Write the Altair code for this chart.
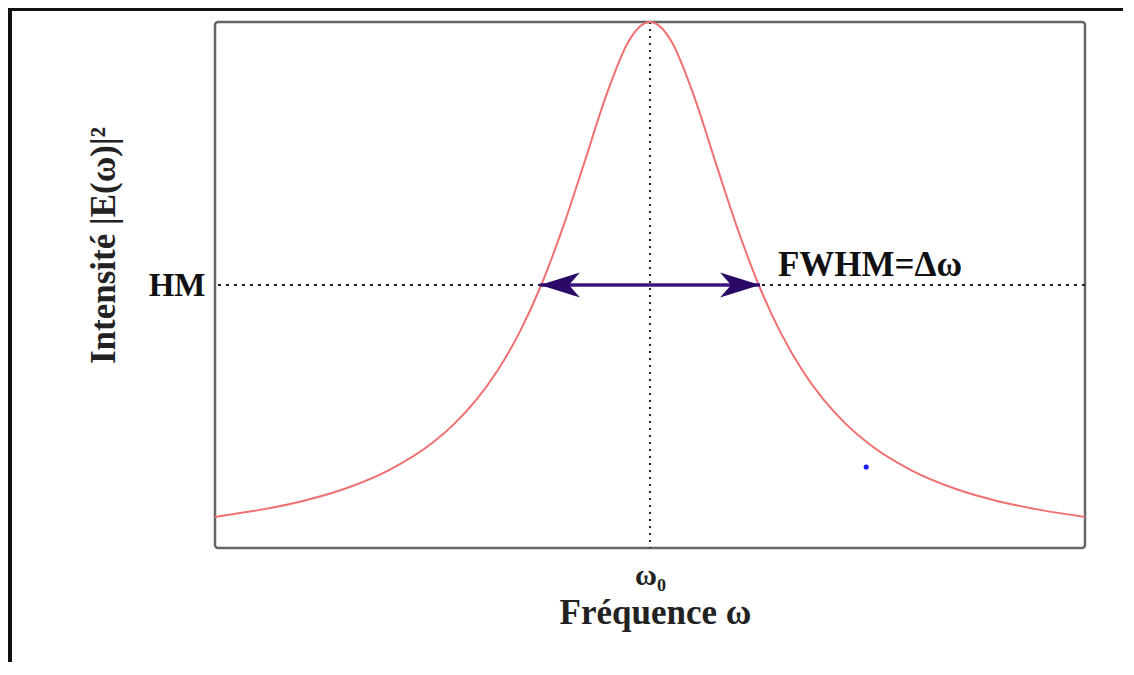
import altair as alt
import pandas as pd

# Curve (normalised intensity vs. frequency offset)
freq = [-1.0, -0.9, -0.8, -0.7, -0.6, -0.5, -0.45, -0.4, -0.35, -0.3, -0.25, -0.2, -0.15, -0.1, -0.05, -0.025,
        0.0, 0.025, 0.05, 0.1, 0.15, 0.2, 0.25, 0.3, 0.35, 0.4, 0.45, 0.5, 0.6, 0.7, 0.8, 0.9, 1.0]
intensity = [0.059, 0.072, 0.089, 0.113, 0.148, 0.200, 0.236, 0.281, 0.338, 0.410, 0.500, 0.610, 0.735, 0.862, 0.962, 0.990,
             1.0, 0.990, 0.962, 0.862, 0.735, 0.610, 0.500, 0.410, 0.338, 0.281, 0.236, 0.200, 0.148, 0.113, 0.089, 0.072, 0.059]

half_max = 0.5
fwhm_left, fwhm_right = -0.253, 0.253
dot_x, dot_y = [0.497], [0.154]
label_x, label_y, label_text = [0.294], [0.538], ["FWHM=Δω"]

curve_df = pd.DataFrame({"f": freq, "i": intensity})
arrow_df = pd.DataFrame({"f": [fwhm_left], "f2": [fwhm_right], "i": [half_max]})
heads_df = pd.DataFrame({"f": [fwhm_left, fwhm_right], "i": [half_max, half_max], "side": ["L", "R"]})
dot_df = pd.DataFrame({"f": dot_x, "i": dot_y})
txt_df = pd.DataFrame({"f": label_x, "i": label_y, "t": label_text})

SERIF = "Liberation Serif"
xs = alt.Scale(domain=[-1, 1], nice=False, zero=False)
ys = alt.Scale(domain=[0, 1], nice=False, zero=False)

x_axis = alt.Axis(values=[0], labelExpr="'ω₀'", ticks=False, grid=False, domain=False,
                  labelFont=SERIF, labelFontSize=30, labelFontWeight="bold", labelColor="#222",
                  labelPadding=12, title="Fréquence ω", titleFont=SERIF, titleFontSize=35,
                  titleFontWeight="bold", titleColor="#222", titleX=440, titleY=64,
                  titleBaseline="middle")
y_axis = alt.Axis(values=[0.5], labelExpr="'HM'", ticks=False, grid=False, domain=False,
                  labelFont=SERIF, labelFontSize=33, labelFontWeight="bold", labelColor="#111",
                  labelPadding=10, labelBaseline="middle", title="Intensité |E(ω)|²", titleFont=SERIF,
                  titleFontSize=35, titleFontWeight="bold", titleColor="#222", titleAngle=-90,
                  titleX=-112, titleY=223, titleBaseline="middle", titleAlign="center")

curve = alt.Chart(curve_df).mark_line(color="#f07070", strokeWidth=2, interpolate="monotone").encode(
    x=alt.X("f:Q", scale=xs, axis=x_axis),
    y=alt.Y("i:Q", scale=ys, axis=y_axis),
)

vline = alt.Chart(curve_df).mark_rule(color="#222", strokeWidth=1.6, strokeDash=[2, 5]).encode(
    x=alt.datum(0))
hline = alt.Chart(curve_df).mark_rule(color="#222", strokeWidth=1.6, strokeDash=[3, 5]).encode(
    y=alt.datum(half_max))

arrow = alt.Chart(arrow_df).mark_rule(color="#3a1680", strokeWidth=3.5).encode(
    x="f:Q", x2="f2:Q", y="i:Q")

left_head = alt.Chart(heads_df).transform_filter("datum.side == 'L'").mark_point(
    shape="M0,0 L2,-0.62 L1.45,0 L2,0.62 Z", size=1600, filled=True, opacity=1, color="#2a0a66").encode(
    x="f:Q", y="i:Q")
right_head = alt.Chart(heads_df).transform_filter("datum.side == 'R'").mark_point(
    shape="M0,0 L-2,-0.62 L-1.45,0 L-2,0.62 Z", size=1600, filled=True, opacity=1, color="#2a0a66").encode(
    x="f:Q", y="i:Q")

dot = alt.Chart(dot_df).mark_point(filled=True, color="#1a1aee", size=26, opacity=1).encode(
    x="f:Q", y="i:Q")

label = alt.Chart(txt_df).mark_text(font=SERIF, fontSize=35, fontWeight="bold", color="#111",
                                    align="left", baseline="middle").encode(
    x="f:Q", y="i:Q", text="t:N")

top_border = alt.Chart(curve_df).mark_rule(color="#111", strokeWidth=2.5).encode(
    x=alt.value(-207), x2=alt.value(920), y=alt.value(-13))
left_border = alt.Chart(curve_df).mark_rule(color="#111", strokeWidth=2.5).encode(
    x=alt.value(-205), y=alt.value(-14), y2=alt.value(640))

chart = alt.layer(
    vline, hline, curve, arrow, left_head, right_head, dot, label, top_border, left_border
).properties(
    width=870, height=526,
    autosize=alt.AutoSizeParams(type="none"),
    padding={"left": 207, "top": 14, "right": 38, "bottom": 114},
).configure(
    background="white",
    view=alt.ViewConfig(stroke="#666", strokeWidth=2.5, cornerRadius=3),
)

chart.save("out.html", embed_options={"renderer": "svg", "actions": False})
